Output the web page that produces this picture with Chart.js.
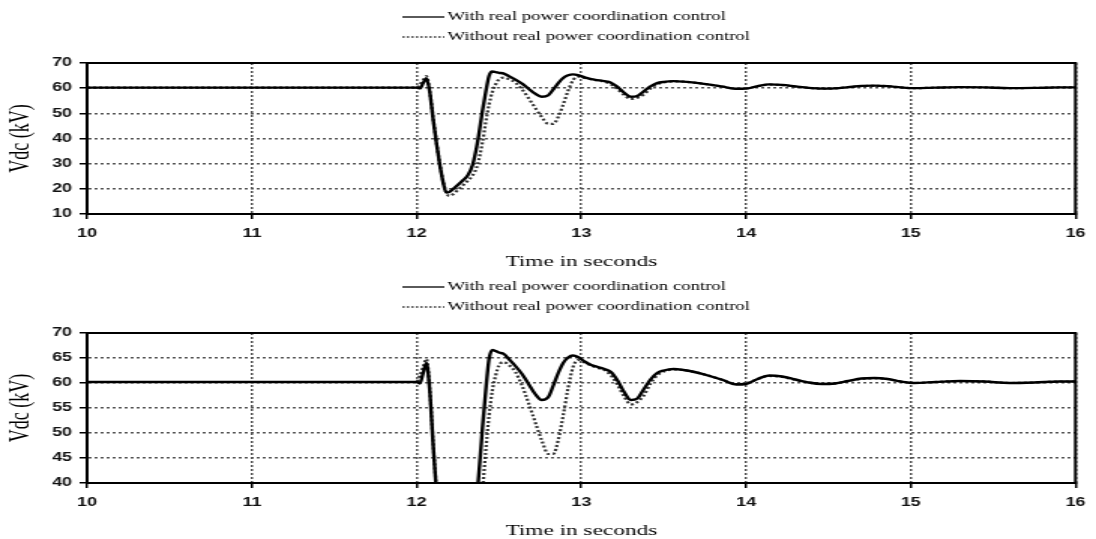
<!DOCTYPE html>
<html>
<head>
<meta charset="utf-8">
<script src="https://cdn.jsdelivr.net/npm/chart.js@4.4.0/dist/chart.umd.min.js"></script>
<style>
html, body { margin:0; padding:0; background:#fff; overflow:hidden; }
/* the scanned figure is stretched sideways, so stretch the drawing the same way */
.wrap { position:absolute; left:0; width:730px; transform:scaleX(1.50137); transform-origin:0 0; }
#w1 { top:0; height:270px; }
#w2 { top:270px; height:269px; }
</style>
</head>
<body>
<div class="wrap" id="w1"><canvas id="c1"></canvas></div>
<div class="wrap" id="w2"><canvas id="c2"></canvas></div>
<script>
// === DATA ===
const times = [10, 12.0, 12.02, 12.04, 12.06, 12.08, 12.10, 12.12, 12.14, 12.16, 12.18, 12.20, 12.22, 12.25, 12.28, 12.31, 12.34, 12.37, 12.40, 12.42, 12.44, 12.46, 12.48, 12.50, 12.53, 12.56, 12.60, 12.64, 12.68, 12.72, 12.76, 12.80, 12.83, 12.86, 12.89, 12.92, 12.95, 12.98, 13.02, 13.06, 13.10, 13.14, 13.18, 13.22, 13.26, 13.30, 13.34, 13.38, 13.42, 13.46, 13.50, 13.56, 13.62, 13.70, 13.78, 13.86, 13.94, 14.00, 14.07, 14.14, 14.22, 14.30, 14.38, 14.46, 14.54, 14.62, 14.70, 14.78, 14.86, 14.94, 15.02, 15.15, 15.30, 15.45, 15.60, 15.75, 15.90, 16.0];
const vdcWith = [60.2, 60.2, 59.9, 62.0, 64.0, 58.5, 48, 38.5, 30, 23, 18.5, 18.8, 19.8, 21.5, 23.3, 25.3, 29.5, 38.5, 51, 58.5, 64.8, 66.6, 66.4, 66.1, 65.8, 64.8, 63.4, 61.8, 59.8, 57.8, 56.6, 57.2, 59.5, 62, 64, 65.1, 65.5, 65.2, 64.3, 63.6, 63.2, 62.8, 62.2, 60.5, 58.2, 56.6, 56.9, 58.8, 60.7, 62.0, 62.5, 62.8, 62.6, 62.1, 61.4, 60.6, 59.7, 59.8, 60.8, 61.5, 61.3, 60.7, 60.1, 59.8, 59.9, 60.4, 60.9, 61.0, 60.8, 60.3, 60.0, 60.2, 60.4, 60.3, 60.0, 60.1, 60.3, 60.3];
const vdcWithout = [60.2, 60.2, 61.5, 63.2, 64.8, 59, 48.5, 39, 30.5, 23.5, 18.5, 17.2, 17.8, 19.5, 21.3, 23.2, 25.3, 29.5, 38.5, 46.5, 53.5, 58.5, 61.5, 63.5, 64.2, 63.6, 62.2, 59.5, 56, 52.2, 48.5, 45.8, 45.8, 48.6, 53.5, 59, 63.2, 64.6, 64.1, 63.5, 63.0, 62.6, 61.5, 59.6, 57.3, 55.7, 56.2, 57.5, 59.9, 61.5, 62.3, 62.7, 62.6, 62.1, 61.4, 60.6, 59.8, 59.9, 60.8, 61.4, 61.2, 60.6, 60.1, 59.8, 59.9, 60.4, 60.8, 60.9, 60.8, 60.3, 60.0, 60.2, 60.4, 60.3, 60.0, 60.1, 60.3, 60.3];
const seriesLabels = ['With real power coordination control', 'Without real power coordination control'];
const xTickLabels = [10, 11, 12, 13, 14, 15, 16];
const topYTicks = [10, 20, 30, 40, 50, 60, 70];
const bottomYTicks = [40, 45, 50, 55, 60, 65, 70];

// === PLOT FRAME + STACKED LEGEND ===
const frameAndLegend = {
    id: 'frameAndLegend',
    afterDraw(chart){
        const {ctx, chartArea: a} = chart;
        ctx.save();
        ctx.strokeStyle = '#000';
        ctx.lineWidth = 2;
        ctx.strokeRect(a.left, a.top, a.right - a.left, a.bottom - a.top);

        ctx.font = '12.5px "Liberation Serif"';
        ctx.textBaseline = 'middle';
        chart.data.datasets.forEach((ds, i)=>{
            const y = 17 + i*20;
            ctx.beginPath();
            ctx.setLineDash(ds.borderDash ? [1.5, 1.5] : []);
            ctx.lineWidth = 1.3;
            ctx.strokeStyle = ds.borderColor;
            ctx.moveTo(268, y);
            ctx.lineTo(296, y);
            ctx.stroke();
            ctx.setLineDash([]);
            ctx.fillStyle = '#000';
            ctx.fillText(ds.label, 298, y);
        });
        ctx.restore();
    }
};

// === CHARTS ===
function makeChart(id, yTicks){
    const ctx = document.getElementById(id).getContext('2d');
    const tickFont = {family:'"Liberation Sans"', size:12, weight:'bold'};
    const grid = {color:'#555', lineWidth:1.5, tickLength:5, tickColor:'#000', tickWidth:1.5};
    const border = {color:'#000', width:2, dash:[2,2]};
    return new Chart(ctx, {
        type:'line',
        data:{datasets:[
            {label:seriesLabels[0], data:times.map((t,i)=>({x:t, y:vdcWith[i]})),
             borderColor:'#000', borderWidth:2.4, pointRadius:0, cubicInterpolationMode:'monotone'},
            {label:seriesLabels[1], data:times.map((t,i)=>({x:t, y:vdcWithout[i]})),
             borderColor:'#333', borderWidth:2.2, borderDash:[2,2], pointRadius:0, cubicInterpolationMode:'monotone'}
        ]},
        options:{
            responsive:true, maintainAspectRatio:false, animation:false,
            layout:{padding:{top:63, right:8, left:0, bottom:0}},
            plugins:{legend:{display:false}, tooltip:{enabled:false}},
            scales:{
                x:{
                    type:'linear', min:xTickLabels[0], max:xTickLabels[xTickLabels.length-1],
                    afterBuildTicks: s=>{ s.ticks = xTickLabels.map(v=>({value:v})); },
                    afterFit: s=>{ s.height = 56; },
                    ticks:{font:tickFont, color:'#111', padding:7, maxRotation:0},
                    grid, border,
                    title:{display:true, text:'Time in seconds', color:'#000', padding:0,
                           font:{family:'"Liberation Serif"', size:15.5, lineHeight:1}}
                },
                y:{
                    min:yTicks[0], max:yTicks[yTicks.length-1],
                    afterBuildTicks: s=>{ s.ticks = yTicks.map(v=>({value:v})); },
                    afterFit: s=>{ s.width = 58; },
                    ticks:{font:tickFont, color:'#111', padding:5},
                    grid, border,
                    title:{display:true, text:'Vdc (kV)', color:'#000', padding:{top:5, bottom:0},
                           font:{family:'"Liberation Serif"', size:18, lineHeight:1}}
                }
            }
        },
        plugins:[frameAndLegend]
    });
}

makeChart('c1', topYTicks);
makeChart('c2', bottomYTicks);
</script>
</body>
</html>
